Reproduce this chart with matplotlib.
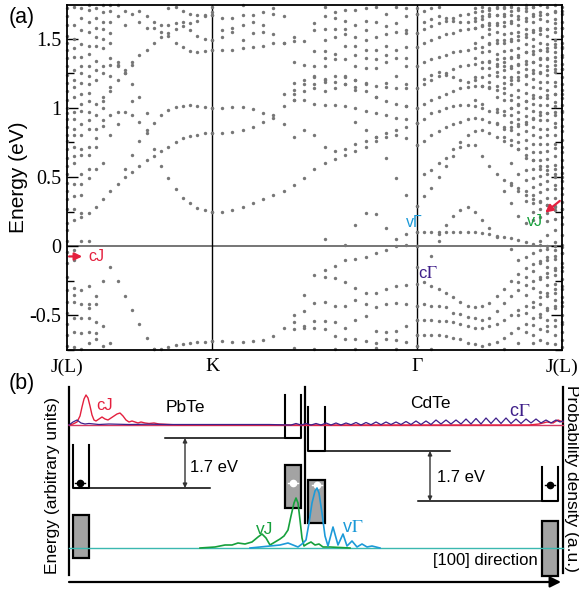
import numpy as np
import matplotlib
matplotlib.use("Agg")
import matplotlib.pyplot as plt
from matplotlib.patches import Rectangle

_ = np.nan

# ---------------- panel (a): band energies (eV) ----------------
# path J(L) -> K -> Gamma -> J(L), 21 k-points per segment
k_nodes = [0.0, 1.0, 2.412, 3.414]
k_labels = ["J(L)", "K", "Γ", "J(L)"]
n_seg = 21

# (first k-index in segment, energies)
bands_JK = [
    (4, [-0.36, -0.25, -0.15, -0.25, -0.36, -0.46, -0.56, -0.66, -0.74]),
    (12, [-0.74, -0.74, -0.73, -0.715, -0.705, -0.70, -0.695, -0.69, -0.685]),
    (0, [0.17, 0.19, 0.21, 0.24, 0.28, 0.34, 0.40, 0.45, 0.50, 0.535, 0.58,
         0.62, 0.655, 0.685, 0.72, 0.755, 0.78, 0.795, 0.805, 0.815, 0.82]),
    (8, [0.56, 0.66, 0.76, 0.84, 0.89, 0.945, 0.985, 1.005, 1.015, 1.017,
         1.012, 1.005, 1.0]),
    (5, [0.91, 0.95, 0.97, 0.97, 0.95, 0.90, 0.82, 0.70, 0.58, 0.49, 0.41,
         0.345, 0.31, 0.275, 0.26, 0.25]),
    (5, [1.05, 1.12, 1.20, 1.27, 1.33, 1.38, 1.42, 1.47, 1.51, 1.54, 1.57,
         1.59, 1.61, 1.63, 1.66, 1.69]),
    (12, [1.58, 1.55, 1.52, 1.47, 1.44, 1.41, 1.40, 1.41, 1.42]),
    (10, [1.70, 1.66, 1.62, 1.60, 1.60, 1.61, 1.62, 1.56, 1.52, 1.50, 1.49]),
    (14, [1.72, 1.73, 1.70, 1.68, 1.67, 1.67, 1.67]),
    (6, [1.36, 1.31, 1.25, 1.17, 1.08, 0.96]),
    (2, [0.04, 0.04]),
]

bands_KG = [
    (0, [-0.685, -0.685, -0.69, -0.69, -0.685, -0.68, -0.65, -0.59, -0.50,
         -0.35, -0.21, -0.22, -0.23, -0.26, -0.30, -0.34, -0.34, -0.31,
         -0.29, -0.28, -0.27]),
    (11, [-0.17, -0.14, -0.10, -0.09, -0.08, -0.05, -0.03, 0.0, 0.01, 0.0]),
    (8, [-0.55, -0.47, -0.41, -0.40, -0.43, -0.43, -0.39, -0.42, -0.44,
         -0.42, -0.41, -0.42, -0.43]),
    (8, [-0.60, -0.58, -0.54, -0.54, -0.545, -0.59, -0.535, -0.505, -0.61,
         -0.62, -0.61, -0.58, -0.53]),
    (9, [-0.59, -0.59, -0.60, -0.65, -0.67, -0.67, -0.685, -0.70, -0.67,
         -0.68, -0.69, -0.64]),
    (8, [-0.735, _, -0.74, _, -0.745, _, -0.74, _, -0.735, _, -0.74, _, -0.72]),
    (0, [0.25, 0.25, 0.265, 0.28, 0.31, 0.34, 0.37, 0.40, 0.445, 0.49, 0.56,
         0.60, 0.63, 0.66, 0.69, 0.72, 0.76, 0.79, 0.80, 0.78, 0.73]),
    (11, [0.05, _, 0.01, 0.15, 0.24, 0.23, 0.13, 0.05, 0.085, 0.10]),
    (14, [0.90, 0.84, 0.79, 0.64, 0.49, 0.37, 0.29]),
    (0, [0.82, 0.82, 0.825, 0.84, 0.865, 0.90, 0.95, 1.01, 1.06, 1.12, 1.17,
         1.20, 1.23, 1.22, 1.20, 1.18, 1.16, 1.15, 1.14, 1.14, 1.14]),
    (0, [1.0, 1.0, 1.005, 1.005, 0.99, 0.96, 0.93, 0.88, 0.79, 0.84, 0.80,
         0.72, 0.685, 0.70, 0.74, 0.76, 0.79, 0.82, 0.84, 0.86, 0.89]),
    (7, [1.10, 1.10, 1.06, 1.03, 1.02, 1.02, 1.01, 1.0, 0.98, 0.96, 0.95,
         0.93, 0.92, 0.89]),
    (8, [1.18, 1.20, 1.22, 1.21, 1.19, 1.17, 1.15, 1.12, 1.08, 1.05, 1.03,
         1.01, 1.0]),
    (0, [1.42, 1.42, 1.42, 1.43, 1.44, 1.45, 1.47, 1.47]),
    (0, [1.49, 1.51, 1.55, 1.49, 1.54, 1.55, 1.53, 1.47]),
    (0, [1.67, 1.65, 1.65, 1.67, 1.67, 1.69, 1.68, 1.66]),
    (0, [1.73, _, _, 1.74, _, _, 1.72, _]),
    (1, [1.56, 1.58, 1.60, 1.62, 1.60]),
]

bands_GJ = [
    (0, [0.10, 0.10, 0.10, 0.10, 0.10, 0.10, 0.10, 0.10, 0.10, 0.096, 0.09,
         0.077, 0.07, 0.06, 0.045, 0.03, 0.015, 0.01, 0.005, 0.0, -0.005]),
    (0, [0.0, _, -0.07, 0.035]),
    (3, [0.09, 0.15, 0.22, 0.265, 0.28, 0.25, 0.19, 0.13, 0.07]),
    (0, [0.29, 0.36, 0.42, 0.50, 0.58, 0.65, 0.72, 0.73, 0.73, 0.65, 0.58,
         0.52, 0.48, 0.44, 0.40, 0.37, 0.34, 0.32, 0.30, 0.28, 0.27]),
    (0, [-0.15, -0.26, -0.29, -0.31, -0.34, -0.37, -0.40, -0.43, -0.44,
         -0.43, -0.41, -0.36, -0.31, -0.25, -0.20, -0.16, -0.13, -0.11,
         -0.10, -0.07, -0.05]),
    (0, [-0.43, -0.42, -0.43, -0.43, -0.44, -0.48, -0.49, -0.51, -0.52,
         -0.53, -0.52, -0.47, -0.41, -0.36, -0.32, -0.28, -0.25, -0.22,
         -0.19, -0.17, -0.15]),
    (0, [-0.53, -0.53, -0.53, -0.54, -0.54, -0.55, -0.56, -0.58, -0.59,
         -0.59, -0.58, -0.56, -0.53, -0.50, -0.46, -0.43, -0.40, -0.37,
         -0.34, -0.31, -0.29]),
    (0, [-0.64, -0.64, -0.64, -0.645, -0.65, -0.66, -0.67, -0.70, -0.71,
         -0.72, -0.71, -0.69, -0.66, -0.63, -0.59, -0.56, -0.52, -0.49,
         -0.46, -0.43, -0.40]),
    (0, [-0.72, _, -0.74, _, _, _, _, _, _, _, _, _, -0.74, _, -0.70, _,
         -0.64, _, -0.58, _, -0.55]),
    (0, [0.73, 0.76, 0.80, 0.83, 0.86, 0.88, 0.90, 0.92, 0.93, 0.92, 0.90,
         0.88, 0.86, 0.86, 0.88, 0.90, 0.93, 0.95, 0.96, 0.97, 0.97]),
    (0, [0.89, 0.92, 0.96, 0.98, 1.0, 1.01, 1.02, 1.02, 1.01, 1.0, 0.98,
         0.97, 0.98, 1.00, 1.03, 1.05, 1.07, 1.08, 1.09, 1.10, 1.10]),
    (0, [1.0, 1.03, 1.06, 1.08, 1.10, 1.12, 1.14, 1.15, 1.16, 1.16, 1.15,
         1.16, 1.18, 1.20, 1.22, 1.24, 1.25, 1.26, 1.27, 1.28, 1.28]),
    (0, [1.14, 1.17, 1.20, 1.23, 1.25, 1.28, 1.30, 1.31, 1.32, 1.33, 1.34,
         1.35, 1.36, 1.37, 1.38, 1.40, 1.41, 1.42, 1.43, 1.44, 1.44]),
    (0, [1.30, 1.33, 1.35, 1.37, 1.38, 1.40, 1.41, 1.42, 1.43, 1.44, 1.46,
         1.47, 1.49, 1.50, 1.52, 1.53, 1.55, 1.56, 1.57, 1.58, 1.58]),
    (0, [1.44, 1.47, 1.49, 1.51, 1.53, 1.54, 1.56, 1.57, 1.58, 1.59, 1.60,
         1.61, 1.62, 1.63, 1.64, 1.65, 1.66, 1.67, 1.68, 1.69, 1.70]),
    (0, [1.54, 1.57, 1.59, 1.61, 1.63, 1.65, 1.67, 1.68, 1.69, 1.70, 1.71,
         1.72, 1.73, 1.74]),
    (0, [1.68, 1.70, 1.72, 1.73]),
    (1, [1.21, 1.24, 1.26, 1.24, 1.22, 1.20, 1.19, 1.20, 1.22, 1.24, 1.26,
         1.27, 1.29, 1.31, 1.32, 1.33, 1.35, 1.36, 1.37, 1.38]),
    (1, [1.62, 1.64, 1.66, 1.65, 1.63, 1.62, 1.62, 1.63, 1.64, 1.66, 1.67,
         1.68, 1.70, 1.71, 1.72, 1.73]),
    (1, [0.52, 0.55, 0.60, 0.64, 0.70, 0.75, 0.80, 0.83, 0.84, 0.82, 0.79,
         0.76, 0.73, 0.70, 0.66, 0.62, 0.58, 0.55, 0.52, 0.50]),
]

# extra states crowding near the zone edges: global k-index -> energies
extra_states = {
    0: [1.72, 1.66, 1.60, 1.52, 1.47, 1.42, 1.36, 1.30, 1.24, 1.18, 1.12, 1.06,
        1.00, 0.96, 0.92, 0.86, 0.80, 0.76, 0.70, 0.64, 0.58, 0.52, 0.46, 0.40,
        0.34, 0.27, 0.12, 0.04, -0.04, -0.12, -0.22, -0.32, -0.40, -0.48,
        -0.56, -0.64, -0.72],
    1: [1.73, 1.60, 1.50, 1.43, 1.37, 1.27, 1.20, 1.15, 1.08, 0.97, 0.92, 0.85,
        0.80, 0.72, 0.65, 0.60, 0.45, 0.36, 0.27, -0.03, -0.10, -0.30, -0.35,
        -0.40, -0.52, -0.62, -0.73],
    2: [1.72, 1.65, 1.56, 1.46, 1.37, 1.30, 1.25, 1.18, 1.10, 1.03, 0.98, 0.88,
        0.80, 0.70, 0.66, 0.52, 0.45, 0.37, 0.24, -0.32, -0.42, -0.52, -0.63,
        -0.74],
    3: [1.74, 1.71, 1.62, 1.55, 1.45, 1.39, 1.30, 1.23, 1.17, 1.11, 1.05, 0.97,
        0.91, 0.85, 0.72, 0.66, 0.56, 0.49, -0.29, -0.42, -0.45, -0.52, -0.62,
        -0.70],
    4: [1.72, 1.65, 1.58, 1.51, 1.45, 1.34, 1.27, 1.20, 1.03, 0.95, 0.85, 0.78,
        0.72, 0.56, -0.42, -0.55, -0.63, -0.67],
    5: [1.74, 1.69, 1.62, 1.57, 1.50, 1.43, 1.30, 1.25, 1.08, 1.0, 0.87, 0.60,
        -0.58, -0.72],
    6: [1.74, 1.70, 1.62, 1.54, 1.47, 1.31, 1.23, 1.15, 0.80, -0.70],
    7: [1.74, 1.66, 1.33, 1.30, 0.88],
    8: [1.70, 1.60, 1.25],
    9: [1.68, 1.31, 1.05],
    10: [1.62],
    11: [1.58],
    28: [1.51, 1.48, 1.33, 1.13, 1.06],
    29: [1.48, 1.31, 1.17],
    30: [1.61, 1.56, 1.41, 1.30, 1.23, 1.14],
    31: [1.73, 1.66, 1.57, 1.49, 1.41, 1.36, 1.30, 1.19, 1.12],
    32: [1.69, 1.65, 1.57, 1.51, 1.39, 1.35, 1.14],
    33: [1.71, 1.63, 1.57, 1.53, 1.45, 1.35, 1.23, 1.17],
    34: [1.71, 1.60, 1.51, 1.45, 1.38, 1.30, 1.20, 1.13],
    35: [1.72, 1.63, 1.56, 1.49, 1.42, 1.36, 1.29, 1.17],
    36: [1.73, 1.62, 1.51, 1.42, 1.35, 1.29, 1.08],
    37: [1.68, 1.59, 1.53, 1.45, 1.38, 1.33, 1.18],
    38: [1.73, 1.61, 1.55, 1.42, 1.36, 1.23],
    39: [1.72, 1.66, 1.56, 1.54, 1.44, 1.36, 1.30, 1.17, 1.01],
    40: [1.72, 1.68, 1.54, 1.44, 1.30],
    48: [1.72, 1.65, 1.58, 1.47, 1.36, 1.22, 1.06],
    49: [1.73, 1.66, 1.60, 1.51, 1.40, 1.29, 1.16, 1.03],
    50: [1.72, 1.68, 1.61, 1.57, 1.53, 1.47, 1.41, 1.33, 1.29, 1.19, 1.14],
    51: [1.73, 1.67, 1.60, 1.55, 1.49, 1.39, 1.32, 1.30, 1.23, 1.13, 1.08,
         0.99, 0.89],
    52: [1.72, 1.66, 1.59, 1.53, 1.47, 1.41, 1.33, 1.30, 1.22, 1.14, 1.11,
         1.06, 0.95, 0.85, 0.79, 0.40],
    53: [1.73, 1.67, 1.61, 1.54, 1.48, 1.42, 1.36, 1.30, 1.22, 1.17, 1.09,
         1.06, 1.0, 0.95, 0.90, 0.84, 0.77, 0.60, 0.46, 0.31, -0.02],
    54: [1.72, 1.66, 1.60, 1.55, 1.49, 1.43, 1.37, 1.32, 1.26, 1.20, 1.13,
         1.08, 1.02, 0.97, 0.92, 0.87, 0.81, 0.75, 0.70, 0.52, 0.42, 0.22,
         -0.10, -0.26, -0.50],
    55: [1.74, 1.70, 1.63, 1.57, 1.51, 1.46, 1.40, 1.34, 1.28, 1.23, 1.17,
         1.11, 1.05, 1.0, 0.94, 0.88, 0.83, 0.77, 0.71, 0.64, 0.55, 0.48,
         0.40, 0.33, 0.17, -0.08, -0.22, -0.35, -0.48, -0.62],
    56: [1.73, 1.68, 1.62, 1.56, 1.50, 1.45, 1.39, 1.33, 1.27, 1.21, 1.15,
         1.09, 1.03, 0.98, 0.92, 0.86, 0.80, 0.74, 0.68, 0.62, 0.56, 0.49,
         0.43, 0.37, 0.31, 0.25, 0.19, -0.05, -0.18, -0.30, -0.44, -0.57,
         -0.70],
    57: [1.74, 1.69, 1.64, 1.58, 1.53, 1.47, 1.42, 1.36, 1.31, 1.25, 1.19,
         1.14, 1.08, 1.02, 0.97, 0.91, 0.85, 0.79, 0.74, 0.68, 0.62, 0.56,
         0.51, 0.45, 0.39, 0.33, 0.27, 0.21, 0.04, -0.03, -0.12, -0.24,
         -0.33, -0.42, -0.51, -0.60, -0.68],
    58: [1.73, 1.68, 1.63, 1.57, 1.52, 1.46, 1.41, 1.35, 1.30, 1.24, 1.19,
         1.13, 1.07, 1.02, 0.96, 0.91, 0.85, 0.80, 0.74, 0.69, 0.63, 0.58,
         0.52, 0.47, 0.41, 0.35, 0.30, 0.24, 0.18, 0.08, -0.02, -0.08,
         -0.15, -0.22, -0.28, -0.36, -0.45, -0.53, -0.61, -0.70],
    59: [1.74, 1.70, 1.64, 1.61, 1.55, 1.49, 1.46, 1.40, 1.34, 1.31, 1.26,
         1.19, 1.16, 1.10, 1.04, 1.01, 0.95, 0.89, 0.86, 0.80, 0.74, 0.71,
         0.65, 0.59, 0.56, 0.50, 0.44, 0.41, 0.35, 0.29, 0.26, 0.20, 0.12,
         0.03, -0.03, -0.09, -0.16, -0.21, -0.27, -0.34, -0.39, -0.45,
         -0.53, -0.58, -0.64, -0.71],
    60: [1.73, 1.68, 1.62, 1.58, 1.52, 1.47, 1.43, 1.37, 1.32, 1.28, 1.22,
         1.17, 1.13, 1.07, 1.02, 0.98, 0.92, 0.87, 0.83, 0.77, 0.72, 0.68,
         0.62, 0.57, 0.53, 0.47, 0.42, 0.38, 0.32, 0.27, 0.21, 0.16, 0.08,
         0.01, -0.05, -0.12, -0.18, -0.24, -0.31, -0.37, -0.43, -0.50,
         -0.56, -0.62, -0.68, -0.73],
}

# ---------------- panel (b): schematic (arbitrary units) ----------------
cJ_x = [0, 4, 8, 11, 13, 15, 17, 19, 21, 23, 25, 27, 30, 33, 36, 39, 42, 45,
        48, 51, 54, 57, 60, 63, 66, 69, 72, 76, 80, 85, 90, 100, 110, 460,
        470, 478, 484, 489, 494]
cJ_y = [0, 1, 3, 9, 18, 26, 30, 27, 19, 10, 5, 4, 6, 8, 6, 5, 7, 9, 11, 12,
        9, 5, 3, 4, 3, 2, 3, 2, 1.5, 2, 1, 0.5, 0, 0, 1, 3, 2, 5, 3]

cG_x = [0, 4, 8, 12, 16, 20, 30, 40, 60, 80, 100, 150, 200, 222, 227, 232,
        237, 242, 247, 252, 257, 262, 267, 272, 277, 282, 287, 292, 297, 302,
        307, 312, 317, 322, 327, 332, 337, 342, 347, 352, 357, 362, 367, 372,
        377, 382, 387, 392, 397, 402, 407, 412, 417, 422, 427, 432, 437, 442,
        447, 452, 457, 462, 467, 472, 477, 482, 487, 491, 494]
cG_y = [0, 3, 5, 2, 1, 1.5, 0.5, 1, 0.5, 0.8, 0.5, 0.5, 0.5, 0, 1.5, 0, 1.5,
        0, 1.5, 0, 2, 0, 2, 0, 2, 0.3, 2.5, 0, 2.5, 0.3, 3, 0.3, 3, 0.5, 3,
        0.5, 3.5, 0.5, 4, 0.5, 4, 0.5, 5, 1, 5, 1, 5, 1, 6, 1, 6.5, 1, 7, 1.5,
        7, 1.5, 7, 1.5, 6, 1.5, 6, 2, 6, 2, 5, 2, 5, 3, 4]

vJ_x = [131, 146, 156, 163, 169, 176, 183, 189, 193, 197, 201, 206, 211, 215,
        219, 222, 225, 227, 229, 231, 233, 235, 238, 242, 246, 250, 254, 261,
        271, 281]
vJ_y = [0, 1, 3, 3, 5, 4, 6, 11, 14, 10, 3, 6, 9, 12, 18, 32, 45, 50, 45, 28,
        10, 2, 4, 6, 3, 4, 1, 1, 0.5, 0]

vG_x = [181, 191, 201, 211, 219, 224, 229, 233, 237, 240, 243, 246, 248, 250,
        253, 256, 259, 264, 269, 274, 278, 283, 288, 293, 298, 303, 311]
vG_y = [0, 1, 2, 3, 5, 3, 1, 4, 8, 25, 45, 57, 60, 55, 35, 12, 2, 21, 3, 14,
        2, 7, 1, 4, 1, 2, 0]

# conduction / valence reference levels of the curves
c_base, v_base = 157, 34
# wells (left, right, top, bottom) and valence blocks (left, right, bottom, top)
wells = [(4, 20, 137, 94), (216, 232, 187, 144), (239, 256, 175, 131),
         (473, 489, 115, 81)]
blocks = [(4, 20, 24, 67), (216, 232, 74, 117), (239, 256, 59, 102),
          (473, 489, 6, 61)]
levels = [(20, 141, 94), (96, 216, 144), (256, 381, 131), (349, 473, 81)]
gaps = [(116, 144, 94), (361, 131, 81)]
electrons = [(11, 99), (481, 97)]
holes = [(224, 99), (248, 97)]

RED = "#e4203e"
GREEN = "#16a03c"
BLUE = "#1c9ad8"
PURPLE = "#40208a"
DOT = "#777777"

plt.rcParams["font.family"] = ["Liberation Sans", "DejaVu Sans"]
plt.rcParams["mathtext.fontset"] = "stix"

fig = plt.figure(figsize=(5.79, 5.89), dpi=100)
W, H = 579.0, 589.0

# ---- panel (a)
ax = fig.add_axes([67 / W, 1 - 350 / H, 495 / W, 345 / H])
k_all = np.concatenate([np.linspace(k_nodes[s], k_nodes[s + 1], n_seg)[(1 if s else 0):]
                        for s in range(3)])
xs, ys = [], []
for s, seg in enumerate([bands_JK, bands_KG, bands_GJ]):
    off = 20 * s
    for start, vals in seg:
        for j, e in enumerate(vals):
            if not np.isnan(e):
                xs.append(k_all[off + start + j])
                ys.append(e)
for idx, vals in extra_states.items():
    for e in vals:
        xs.append(k_all[idx])
        ys.append(e)

ax.axhline(0, color="#6a6a6a", lw=1.3, zorder=1)
for kx in k_nodes[1:3]:
    ax.axvline(kx, color="k", lw=1.0, zorder=1)
ax.scatter(xs, ys, s=6, c=DOT, linewidths=0, zorder=2, clip_on=False)

ax.set_xlim(k_nodes[0], k_nodes[-1])
ax.set_ylim(-0.745, 1.743)
ax.set_xticks(k_nodes)
ax.set_xticklabels(k_labels, fontfamily="Liberation Serif", fontsize=14)
ax.set_yticks([-0.5, 0, 0.5, 1, 1.5])
ax.set_yticklabels(["-0.5", "0", "0.5", "1", "1.5"],
                   fontfamily="Liberation Serif", fontsize=14.5)
ax.set_yticks(np.arange(-0.75, 1.75, 0.25), minor=True)
ax.tick_params(axis="y", which="both", direction="in", right=True, width=1.0)
ax.tick_params(axis="y", which="major", length=8, pad=4)
ax.tick_params(axis="y", which="minor", length=5)
ax.tick_params(axis="x", length=0, pad=6)
for sp in ax.spines.values():
    sp.set_linewidth(1.3)
ax.set_ylabel("Energy (eV)", fontsize=15, labelpad=1)

ax.annotate("", xy=(0.124, -0.074), xytext=(-0.005, -0.074),
            arrowprops=dict(arrowstyle="-|>", color=RED, lw=1.6, mutation_scale=11),
            annotation_clip=False)
ax.text(0.145, -0.074, "cJ", color=RED, fontsize=11.5, va="center", ha="left")
ax.annotate("", xy=(3.283, 0.23), xytext=(3.414, 0.34),
            arrowprops=dict(arrowstyle="-|>", color=RED, lw=1.6, mutation_scale=11),
            annotation_clip=False)
ax.text(3.228, 0.175, "vJ", color=GREEN, fontsize=11.5, va="center", ha="center")
ax.text(2.393, 0.17, "vΓ", color=BLUE, fontsize=11.5, va="center", ha="center")
ax.text(2.49, -0.19, r"c$\Gamma$", color=PURPLE, fontsize=12, va="center",
        ha="center")

fig.text(22 / W, 1 - 18 / H, "(a)", fontsize=15.5, ha="center", va="center")

# ---- panel (b)
bx = fig.add_axes([60 / W, 1 - 587 / H, 515 / W, 209 / H])
bx.set_xlim(-9, 506)
bx.set_ylim(-5, 204)
bx.axis("off")

bx.plot([0, 0], [7, 195], color="k", lw=1.6)
bx.plot([494, 494], [9, 195], color="k", lw=1.6)
bx.plot([236, 236], [59, 195], color="k", lw=1.6)
bx.annotate("", xy=(492, 0), xytext=(0, 0),
            arrowprops=dict(arrowstyle="-|>", color="k", lw=1.6, mutation_scale=16,
                            shrinkA=0, shrinkB=0))

for l, r, b, t in blocks:
    bx.add_patch(Rectangle((l, b), r - l, t - b, fc="#a3a3a3", ec="k", lw=1.6,
                           zorder=2))
for l, r, t, b in wells:
    bx.plot([l, l, r, r], [t, b, b, t], color="k", lw=1.5, zorder=2)
for x0, x1, y in levels:
    bx.plot([x0, x1], [y, y], color="k", lw=1.1, zorder=2)
for x, y0, y1 in gaps:
    bx.annotate("", xy=(x, y1), xytext=(x, y0),
                arrowprops=dict(arrowstyle="<|-|>", color="#333333", lw=1.0,
                                mutation_scale=6, shrinkA=0, shrinkB=0))
for x, y in electrons:
    bx.plot([x - 5, x + 5], [y, y], color="k", lw=1.0, zorder=3)
    bx.plot(x, y, "o", color="k", ms=4.5, zorder=3)
for x, y in holes:
    bx.plot([x - 5, x + 5], [y, y], color="white", lw=1.0, zorder=3)
    bx.plot(x, y, "o", color="white", ms=4.5, zorder=3)

# probability densities
bx.plot([0, 494], [c_base, c_base], color="#d43a62", lw=1.0, zorder=3)
bx.plot([0, 494], [v_base, v_base], color="#3bb8b0", lw=1.0, zorder=3)
bx.plot(cJ_x, np.array(cJ_y) + c_base, color=RED, lw=1.0, zorder=4)
bx.plot(cG_x, np.array(cG_y) + c_base, color=PURPLE, lw=0.9, zorder=4)
bx.plot(vJ_x, np.array(vJ_y) + v_base, color=GREEN, lw=1.2, zorder=4)
bx.plot(vG_x, np.array(vG_y) + v_base, color=BLUE, lw=1.2, zorder=4)

bx.text(36, 177, "cJ", color=RED, fontsize=12, ha="center", va="center")
bx.text(116, 174, "PbTe", fontsize=12.5, ha="center", va="center")
bx.text(361, 179, "CdTe", fontsize=12.5, ha="center", va="center")
bx.text(451, 170, r"c$\Gamma$", color=PURPLE, fontsize=13, ha="center",
        va="center")
bx.text(196, 52, "vJ", color=GREEN, fontsize=12.5, ha="center", va="center")
bx.text(284, 54, r"v$\Gamma$", color=BLUE, fontsize=13, ha="center",
        va="center")
bx.text(121, 115, "1.7 eV", fontsize=12, ha="left", va="center")
bx.text(368, 105, "1.7 eV", fontsize=12, ha="left", va="center")
bx.text(416, 22, "[100] direction", fontsize=12, ha="center", va="center")

fig.text(53 / W, 1 - 485 / H, "Energy (arbitrary units)", fontsize=12.5,
         rotation=90, ha="center", va="center")
fig.text(572 / W, 1 - 478 / H, "Probability density (a.u.)", fontsize=12.5,
         rotation=270, ha="center", va="center")
fig.text(22 / W, 1 - 383 / H, "(b)", fontsize=15.5, ha="center", va="center")

fig.savefig("out.png", dpi=100)
